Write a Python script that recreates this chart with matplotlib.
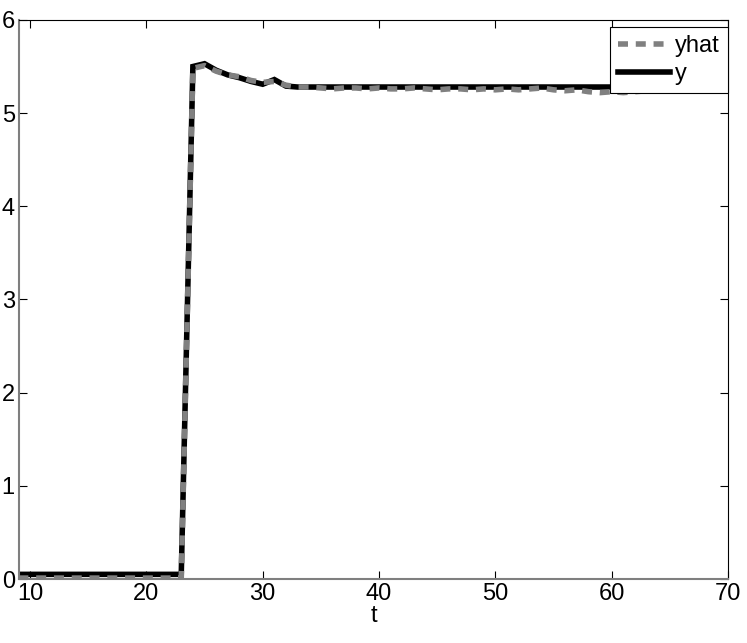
import matplotlib
matplotlib.use("Agg")
import matplotlib.pyplot as plt

plt.rcParams["font.family"] = ["Liberation Sans", "DejaVu Sans"]

# sample times (one sample per unit of t)
t = list(range(9, 71))

# measured output y
y = ([0.05] * 15 +                                   # t = 9..23
     [5.50, 5.53, 5.46, 5.41, 5.38, 5.34, 5.31, 5.36, 5.29] +   # t = 24..32
     [5.28] * 38)                                    # t = 33..70

# estimate yhat
yhat = ([0.01] * 15 +
        [5.48, 5.51, 5.45, 5.41, 5.39, 5.35, 5.33, 5.34, 5.30,
         5.28, 5.28, 5.27, 5.26, 5.27, 5.27, 5.26, 5.27, 5.26, 5.26,   # t = 33..42
         5.27, 5.26, 5.25, 5.26, 5.26, 5.25, 5.26, 5.25, 5.26, 5.25,   # t = 43..52
         5.26, 5.27, 5.25, 5.24, 5.25, 5.23, 5.22, 5.23, 5.22, 5.23,   # t = 53..62
         5.24, 5.25, 5.26, 5.26, 5.27, 5.27, 5.27, 5.28])              # t = 63..70

xticks = [10, 20, 30, 40, 50, 60, 70]
yticks = [0, 1, 2, 3, 4, 5, 6]

fig = plt.figure(figsize=(7.47, 6.43), dpi=100)
ax = fig.add_axes([0.0254, 0.0995, 0.9492, 0.8695])

ax.plot(t, y, color="black", linewidth=4, label="y", solid_joinstyle="miter")
ax.plot(t, yhat, color="#808080", linewidth=4, dashes=(1.8, 1.4), label="yhat")

ax.set_xlim(9.05, 70)
ax.set_ylim(0, 6)
ax.set_xticks(xticks)
ax.set_yticks(yticks)
ax.tick_params(direction="in", length=6, width=0.8, labelsize=17,
               top=True, right=True, pad=3)
ax.set_xlabel("t", fontsize=17, labelpad=0)

for side in ["left", "bottom"]:
    ax.spines[side].set_color("#7f7f7f")
    ax.spines[side].set_linewidth(1.5)
for side in ["top", "right"]:
    ax.spines[side].set_color("black")
    ax.spines[side].set_linewidth(0.8)

handles, labels = ax.get_legend_handles_labels()
leg = ax.legend(handles[::-1], labels[::-1], loc="upper right",
                bbox_to_anchor=(1.0, 0.9875), fontsize=17, fancybox=False,
                framealpha=1, edgecolor="black", borderpad=0.35,
                handlelength=2.2, handletextpad=0.2, labelspacing=0.25,
                borderaxespad=0)
leg.get_frame().set_linewidth(0.8)

fig.savefig("out.png", dpi=100)
